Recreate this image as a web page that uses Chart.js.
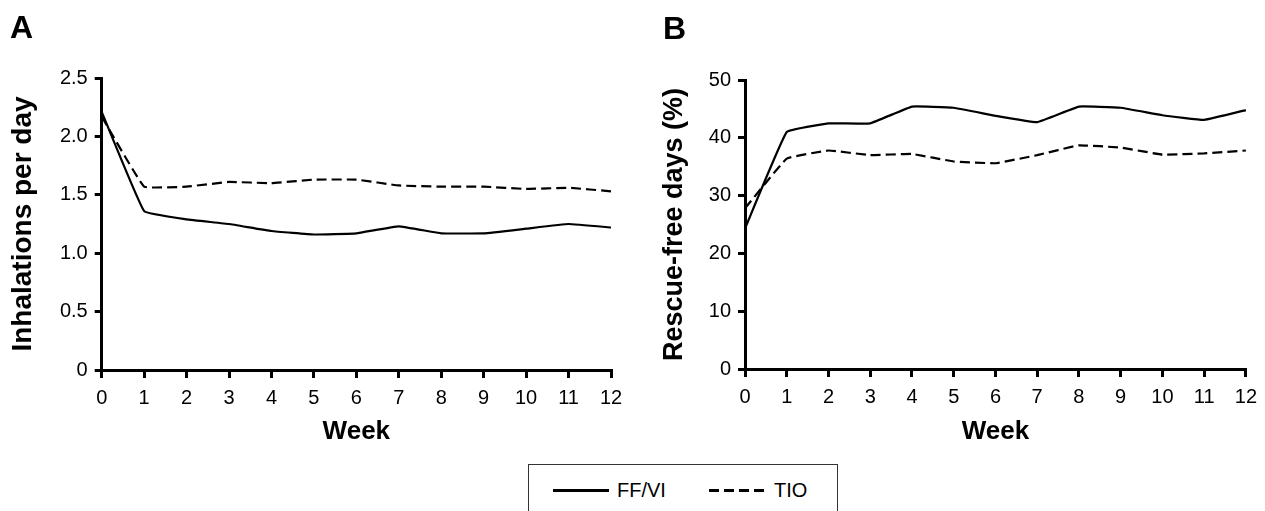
<!DOCTYPE html>
<html>
<head>
<meta charset="utf-8">
<script src="https://cdn.jsdelivr.net/npm/chart.js@4"></script>
<style>
    body { margin: 0; background: #fff; font-family: "Liberation Sans", Arial, sans-serif; }
    #page { position: relative; width: 1265px; height: 511px; overflow: hidden; }
    .panel { position: absolute; top: 0; height: 450px; }
    .panel-label { position: absolute; font-size: 32px; font-weight: bold; line-height: 32px; }
    #legend { position: absolute; left: 528px; top: 464px; width: 308px; height: 60px; border: 1.5px solid #333; }
    .swatch { position: absolute; top: 24px; width: 56px; height: 3px; }
    .legend-text { position: absolute; top: 15px; font-size: 20px; line-height: 20px; }
</style>
</head>
<body>
<div id="page">
    <div class="panel" style="left:0; width:632px;"><canvas id="chartA"></canvas></div>
    <div class="panel" style="left:632px; width:633px;"><canvas id="chartB"></canvas></div>
    <div class="panel-label" style="left:10px; top:11px;">A</div>
    <div class="panel-label" style="left:663px; top:12px;">B</div>
    <div id="legend">
        <div class="swatch" style="left:24px; background:#000;"></div>
        <div class="legend-text" style="left:88px;">FF/VI</div>
        <div class="swatch" style="left:180px; background:repeating-linear-gradient(to right, #000 0 10px, transparent 10px 15px);"></div>
        <div class="legend-text" style="left:245px;">TIO</div>
    </div>
</div>
<script>
// Weeks on the x axis
const weeks = [0, 1, 2, 3, 4, 5, 6, 7, 8, 9, 10, 11, 12];

// Panel A - inhalations per day
const inhalFF = [2.21, 1.36, 1.29, 1.25, 1.19, 1.16, 1.17, 1.23, 1.17, 1.17, 1.21, 1.25, 1.22];
const inhalTIO = [2.17, 1.57, 1.57, 1.61, 1.60, 1.63, 1.63, 1.58, 1.57, 1.57, 1.55, 1.56, 1.53];

// Panel B - rescue-free days (%)
const rescueFF = [24.3, 41.0, 42.5, 42.5, 45.4, 45.2, 43.8, 42.7, 45.4, 45.2, 43.9, 43.1, 44.8];
const rescueTIO = [27.8, 36.4, 37.8, 37.0, 37.2, 35.9, 35.6, 37.0, 38.7, 38.3, 37.1, 37.3, 37.8];

const seriesNames = ['FF/VI', 'TIO'];

Chart.defaults.font.family = '"Liberation Sans", Arial, sans-serif';
Chart.defaults.color = '#000';
Chart.defaults.animation = false;

function lineSet(label, data, dashed) {
    return {
        label: label,
        data: data,
        borderColor: '#000',
        borderWidth: 2.2,
        borderDash: dashed ? [10, 5] : [],
        pointRadius: 0,
        tension: 0.08,
        fill: false
    };
}

// Build one panel
function makePanel(id, ff, tio, yMax, yStep, yTitle, fmt, opts) {
    const ctx = document.getElementById(id).getContext('2d');
    return new Chart(ctx, {
        type: 'line',
        data: {
            labels: weeks,
            datasets: [
                lineSet(seriesNames[0], ff, false),
                lineSet(seriesNames[1], tio, true)
            ]
        },
        options: {
            responsive: true,
            maintainAspectRatio: false,
            layout: { padding: { left: 0, top: opts.top, right: opts.right, bottom: 0 } },
            plugins: { legend: { display: false }, tooltip: { enabled: false } },
            scales: {
                x: {
                    type: 'category',
                    offset: false,
                    grid: { drawOnChartArea: false, drawTicks: true, tickLength: 8, color: '#000', lineWidth: 3, offset: false },
                    border: { display: true, color: '#000', width: 3 },
                    ticks: { font: { size: 20 }, padding: 8, maxRotation: 0, autoSkip: false },
                    title: { display: true, text: 'Week', font: { size: 26, weight: 'bold' }, padding: { top: 0, bottom: 3 } },
                    afterFit: s => { s.height = opts.xh; }
                },
                y: {
                    min: 0,
                    max: yMax,
                    grid: { drawOnChartArea: false, drawTicks: true, tickLength: 7, color: '#000', lineWidth: 3 },
                    border: { display: true, color: '#000', width: 3 },
                    ticks: { stepSize: yStep, font: { size: 20 }, padding: 7, callback: fmt },
                    title: { display: true, text: yTitle, font: { size: opts.titleSize, weight: 'bold' }, padding: { top: opts.titlePad, bottom: 0 } },
                    afterFit: s => { s.width = opts.yw; }
                }
            }
        }
    });
}

makePanel('chartA', inhalFF, inhalTIO, 2.5, 0.5, 'Inhalations per day',
    v => v === 0 ? '0' : v.toFixed(1),
    { top: 78, right: 21, xh: 80, yw: 101.7, titlePad: 6, titleSize: 28 });

makePanel('chartB', rescueFF, rescueTIO, 50, 10, 'Rescue-free days (%)',
    v => String(v),
    { top: 80, right: 13, xh: 81, yw: 113, titlePad: 26, titleSize: 27 });
</script>
</body>
</html>
